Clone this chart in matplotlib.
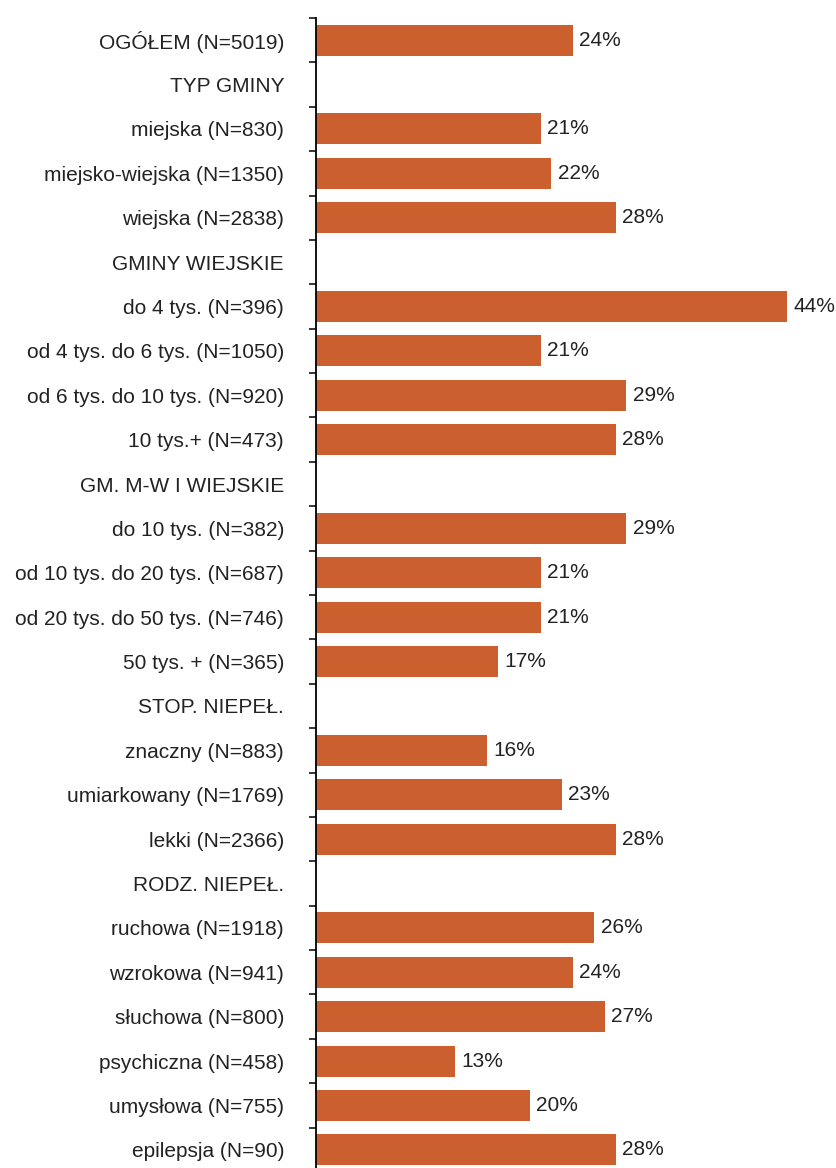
import matplotlib
matplotlib.use("Agg")
from matplotlib import pyplot as plt
import numpy as np

# kategorie (wiersze bez wartosci to naglowki grup)
labels = [
    "OGÓŁEM (N=5019)",
    "TYP GMINY",
    "miejska (N=830)",
    "miejsko-wiejska (N=1350)",
    "wiejska (N=2838)",
    "GMINY WIEJSKIE",
    "do 4 tys. (N=396)",
    "od 4 tys. do 6 tys. (N=1050)",
    "od 6 tys. do 10 tys. (N=920)",
    "10 tys.+ (N=473)",
    "GM. M-W I WIEJSKIE",
    "do 10 tys. (N=382)",
    "od 10 tys. do 20 tys. (N=687)",
    "od 20 tys. do 50 tys. (N=746)",
    "50 tys. + (N=365)",
    "STOP. NIEPEŁ.",
    "znaczny (N=883)",
    "umiarkowany (N=1769)",
    "lekki (N=2366)",
    "RODZ. NIEPEŁ.",
    "ruchowa (N=1918)",
    "wzrokowa (N=941)",
    "słuchowa (N=800)",
    "psychiczna (N=458)",
    "umysłowa (N=755)",
    "epilepsja (N=90)",
]
values = [24, None, 21, 22, 28, None, 44, 21, 29, 28, None, 29, 21, 21, 17,
          None, 16, 23, 28, None, 26, 24, 27, 13, 20, 28]

plt.rcParams["font.family"] = ["Liberation Sans", "DejaVu Sans"]

fig = plt.figure(figsize=(8.37, 11.68), dpi=100)
ax = fig.add_axes([316 / 837, -4 / 1168, 1 - 316 / 837, 1154 / 1168])

pos = np.arange(len(labels))
for i, v in enumerate(values):
    if v is None:
        continue
    ax.barh(i, v, height=0.7, color="#CC5F2E")
    ax.text(v + 0.6, i, "%d%%" % v, va="center", ha="left",
            fontsize=15, color="#222222")

ax.set_ylim(len(labels) - 0.5, -0.5)
ax.set_xlim(0, 48.7)
ax.set_yticks(pos)
ax.set_yticklabels(labels, fontsize=15, color="#222222")
ax.set_yticks(np.arange(-0.5, len(labels), 1), minor=True)
ax.tick_params(axis="y", which="major", length=0, pad=23)
ax.tick_params(axis="y", which="minor", length=5, width=1.1, direction="out")
ax.set_xticks([])
for s in ["top", "right", "bottom"]:
    ax.spines[s].set_visible(False)
ax.spines["left"].set_linewidth(1.3)

fig.savefig("out.png", dpi=100)
